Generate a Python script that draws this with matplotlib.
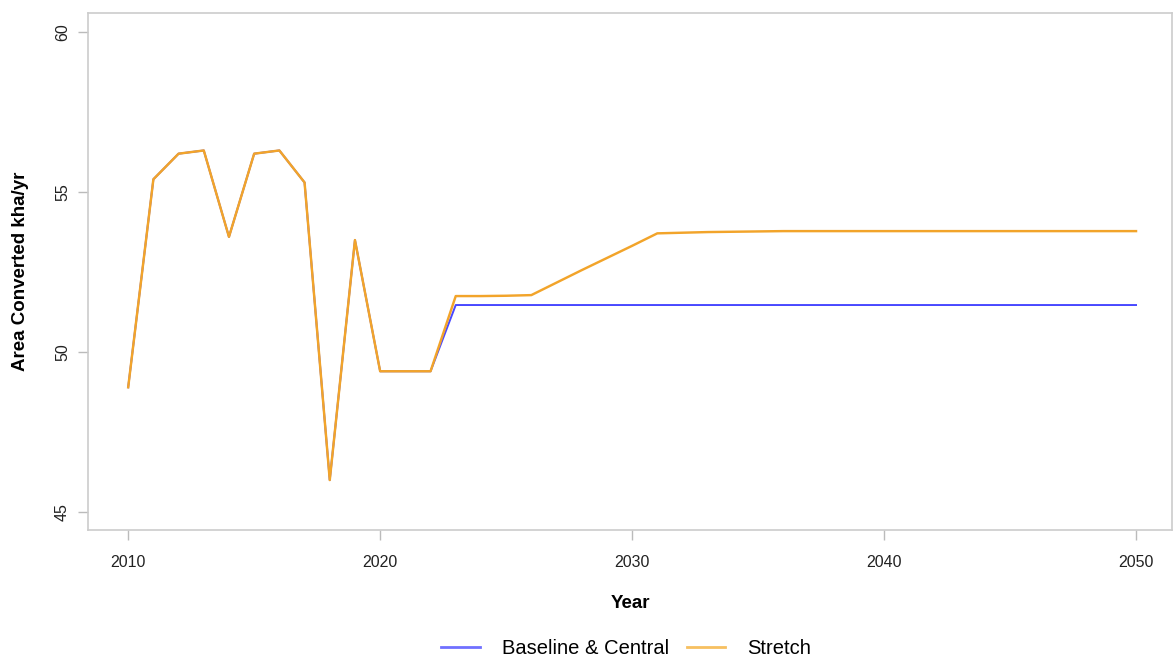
import matplotlib.pyplot as plt
from matplotlib.lines import Line2D

plt.rcParams['font.family'] = ['Liberation Sans', 'DejaVu Sans']

years = list(range(2010, 2051))

# area converted per year (kha/yr), history shared by both scenarios
history = [48.9, 55.4, 56.2, 56.3, 53.6, 56.2, 56.3, 55.3, 46.0, 53.5,
           49.4, 49.4, 49.4]
baseline = history + [51.47] * 28
stretch = history + [51.75, 51.75, 51.76, 51.78,
                     52.17, 52.56, 52.94, 53.32, 53.71,
                     53.73, 53.75, 53.76, 53.77, 53.78] + [53.78] * 14

series_names = ["Baseline & Central", "Stretch"]
series_colors = ["#4848ff", "#f2a42a"]
legend_colors = ["#7070ff", "#f7c060"]

fig = plt.figure(figsize=(11.75, 6.6), dpi=100)
ax = fig.add_axes([0.075, 0.197, 0.9225, 0.783])

# stretch drawn on top and a touch wider so the shared history stays orange
ax.plot(years, baseline, color=series_colors[0], lw=1.4)
ax.plot(years, stretch, color=series_colors[1], lw=1.75)

ax.set_xlim(2008.41, 2051.43)
ax.set_ylim(44.44, 60.59)
ax.set_xticks([2010, 2020, 2030, 2040, 2050])
ax.set_yticks([45, 50, 55, 60])

for s in ax.spines.values():
    s.set_color("#cccccc")
    s.set_linewidth(1.2)
ax.tick_params(colors="#bbbbbb", labelcolor="#222222", labelsize=11.5,
               length=7, width=1)
ax.tick_params(axis="x", pad=11)
ax.tick_params(axis="y", pad=6)
for lab in ax.get_yticklabels():
    lab.set_rotation(90)
    lab.set_va("center")

ax.set_xlabel("Year", fontsize=13.5, fontweight="bold", labelpad=18)
ax.set_ylabel("Area Converted kha/yr", fontsize=13.5, fontweight="bold",
              labelpad=19)

handles = [Line2D([], [], color=c, lw=2) for c in legend_colors]
fig.legend(handles, series_names, loc="center", bbox_to_anchor=(0.533, 0.017),
           ncol=2, frameon=False, fontsize=14.5, handlelength=1.9,
           columnspacing=0.9, handletextpad=1.1)

fig.savefig("out.png", dpi=100)
